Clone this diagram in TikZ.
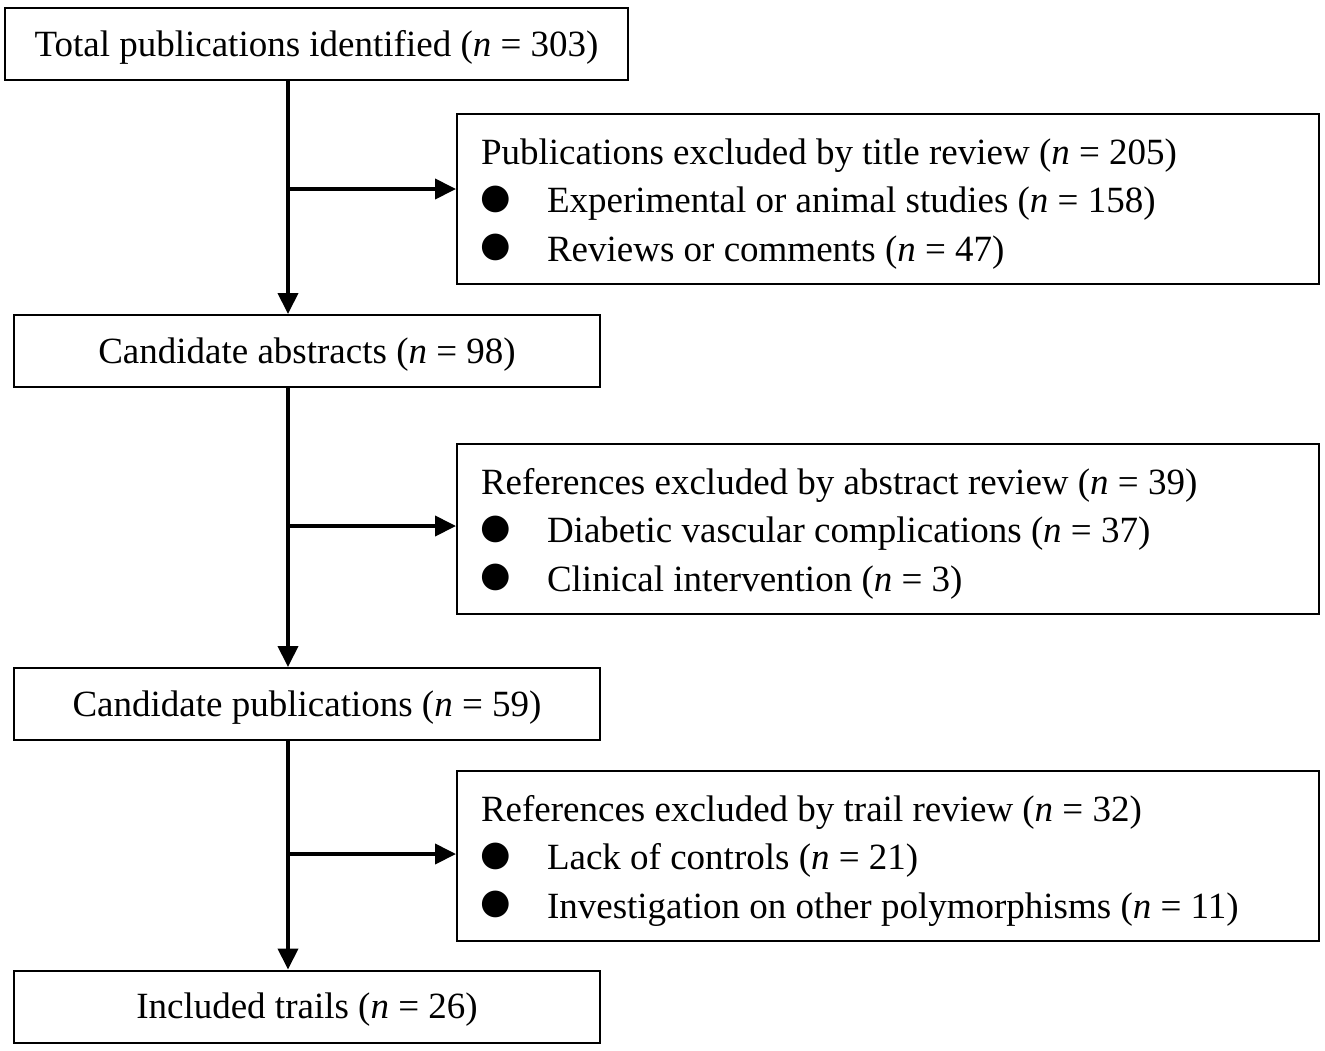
\documentclass[tikz,border=0pt]{standalone}
\usepackage{fontspec}
\setmainfont{Liberation Serif}
\newfontfamily\symfont{DejaVu Sans}
\usetikzlibrary{arrows.meta}

\tikzset{
  stage/.style={draw, line width=2pt, minimum height=72pt, inner sep=0pt, text height=24pt, text depth=0pt},
  excl/.style={draw, line width=2pt, anchor=north west, align=flush left, text width=814pt,
    inner xsep=24pt, inner ysep=0pt, text height=50.3pt, text depth=119.7pt},
  flow/.style={line width=4pt, -{Triangle[length=21pt,width=20pt]}}
}
\newcommand{\itm}{\makebox[66pt][l]{\hspace{-1pt}\raisebox{4.5pt}{\fontsize{35}{48}\symfont ●}}}

\begin{document}
\begin{tikzpicture}[x=1pt, y=-1pt, font=\fontsize{37}{48.4}\selectfont]
\useasboundingbox (0,0) rectangle (1325,1050);

%% stages
\node[stage, minimum width=623pt] (total) at (316.5,44) {Total publications identified (\textit{n} = 303)};
\node[stage, minimum width=586pt] (abs) at (307,351) {Candidate abstracts (\textit{n} = 98)};
\node[stage, minimum width=586pt] (pub) at (307,704) {Candidate publications (\textit{n} = 59)};
\node[stage, minimum width=586pt] (inc) at (307,1006.5) {Included trails (\textit{n} = 26)};

%% exclusions
\node[excl] (ex1) at (456,113) {Publications excluded by title review (\textit{n} = 205)\\
  \itm Experimental or animal studies (\textit{n} = 158)\\
  \itm Reviews or comments (\textit{n} = 47)};
\node[excl] (ex2) at (456,443) {References excluded by abstract review (\textit{n} = 39)\\
  \itm Diabetic vascular complications (\textit{n} = 37)\\
  \itm Clinical intervention (\textit{n} = 3)};
\node[excl] (ex3) at (456,770) {References excluded by trail review (\textit{n} = 32)\\
  \itm Lack of controls (\textit{n} = 21)\\
  \itm Investigation on other polymorphisms (\textit{n} = 11)};

%% branch points
\coordinate (v) at (288,0);
\coordinate (b1) at (288,189);
\coordinate (b2) at (288,526);
\coordinate (b3) at (288,854);

%% arrows
\draw[flow] (total.south -| v) -- (abs.north -| v);
\draw[flow] (abs.south -| v) -- (pub.north -| v);
\draw[flow] (pub.south -| v) -- (inc.north -| v);
\draw[flow] (b1) -- (b1 -| ex1.west);
\draw[flow] (b2) -- (b2 -| ex2.west);
\draw[flow] (b3) -- (b3 -| ex3.west);
\end{tikzpicture}
\end{document}
